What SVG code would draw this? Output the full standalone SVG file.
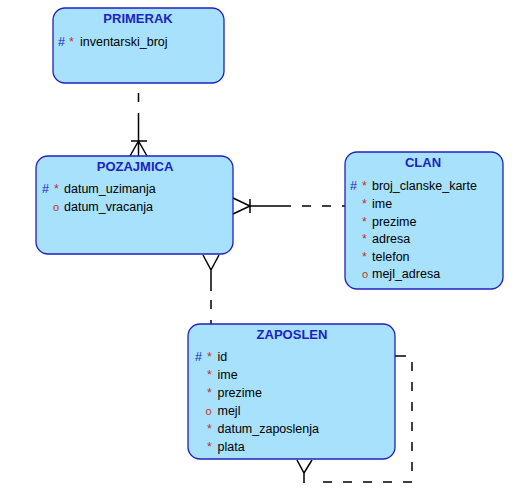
<svg xmlns="http://www.w3.org/2000/svg" width="514" height="494" viewBox="0 0 514 494">
<style>
.box{fill:#a8e1fb;stroke:#2020c0;stroke-width:1.3}
.title{font-family:"Liberation Sans",Arial,sans-serif;font-size:13px;font-weight:bold;fill:#1c22c4;text-anchor:middle}
.attr{font-family:"Liberation Sans",Arial,sans-serif;font-size:12.5px;fill:#000}
.hash{font-family:"Liberation Sans",Arial,sans-serif;font-size:12.5px;fill:#1c22c4}
.star{font-family:"Liberation Sans",Arial,sans-serif;font-size:12.5px;fill:#c03030}
.opt{font-family:"Liberation Sans",Arial,sans-serif;font-size:11px;fill:#c03030}
.ln{fill:none;stroke:#000;stroke-width:1.5}
.dash{fill:none;stroke:#000;stroke-width:1.5;stroke-dasharray:9 11}
</style>
<rect width="514" height="494" fill="#fff"/>
<g id="connectors">
  <path class="dash" d="M138.5,83 V115" stroke-dasharray="8 6" stroke-dashoffset="-10"/>
  <path class="ln" d="M138.5,115 V156 M131,141 H147 M138.5,141 L130,156 M138.5,141 L147,156"/>
  <path class="ln" d="M233,198 L250,206 L233,214 M250,199 V213 M250,206 H291"/>
  <path class="dash" d="M291,206 H345" stroke-dashoffset="-11"/>
  <path class="ln" d="M203,255 L211,270 L219,255 M211,270 V291"/>
  <path class="dash" d="M211,291 V324" stroke-dasharray="12 11" stroke-dashoffset="-9"/>
  <path class="ln" d="M395,356 H406"/>
  <path class="dash" d="M412,362 V482 H315"/>
  <path class="ln" d="M304,473 V483 M297,460 L304,473 L312,460"/>
</g>
<g id="PRIMERAK">
  <rect class="box" x="53" y="8" width="171" height="75" rx="12"/>
  <text class="title" x="138" y="23">PRIMERAK</text>
  <text class="hash" x="58" y="46">#</text><text class="star" x="69" y="46">*</text>
  <text class="attr" x="80" y="46">inventarski_broj</text>
</g>
<g id="POZAJMICA">
  <rect class="box" x="36" y="156" width="197" height="98" rx="12"/>
  <text class="title" x="135" y="171">POZAJMICA</text>
  <text class="hash" x="42" y="193">#</text><text class="star" x="54" y="193">*</text>
  <text class="attr" x="64" y="193">datum_uzimanja</text>
  <text class="opt" x="53" y="211">o</text>
  <text class="attr" x="64" y="211">datum_vracanja</text>
</g>
<g id="CLAN">
  <rect class="box" x="345" y="152" width="158" height="137" rx="12"/>
  <text class="title" x="423" y="167">CLAN</text>
  <text class="hash" x="350" y="190">#</text><text class="star" x="362" y="190">*</text>
  <text class="attr" x="372" y="190">broj_clanske_karte</text>
  <text class="star" x="362" y="208">*</text><text class="attr" x="372" y="208">ime</text>
  <text class="star" x="362" y="225.5">*</text><text class="attr" x="372" y="225.5">prezime</text>
  <text class="star" x="362" y="243">*</text><text class="attr" x="372" y="243">adresa</text>
  <text class="star" x="362" y="260.5">*</text><text class="attr" x="372" y="260.5">telefon</text>
  <text class="opt" x="362" y="278">o</text><text class="attr" x="372" y="278">mejl_adresa</text>
</g>
<g id="ZAPOSLEN">
  <rect class="box" x="188" y="324" width="207" height="135" rx="12"/>
  <text class="title" x="292" y="339">ZAPOSLEN</text>
  <text class="hash" x="195" y="361">#</text><text class="star" x="207" y="361">*</text>
  <text class="attr" x="217.5" y="361">id</text>
  <text class="star" x="207" y="379">*</text><text class="attr" x="217.5" y="379">ime</text>
  <text class="star" x="207" y="397">*</text><text class="attr" x="217.5" y="397">prezime</text>
  <text class="opt" x="205.5" y="415">o</text><text class="attr" x="217.5" y="415">mejl</text>
  <text class="star" x="207" y="433">*</text><text class="attr" x="217.5" y="433">datum_zaposlenja</text>
  <text class="star" x="207" y="451">*</text><text class="attr" x="217.5" y="451">plata</text>
</g>
</svg>
